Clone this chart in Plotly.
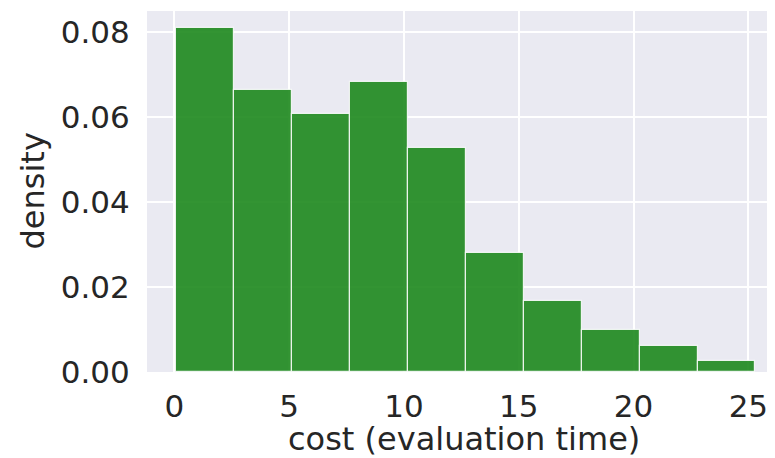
import plotly.graph_objects as go

# Histogram data (density per bin)
bin_edges = [0.07, 2.60, 5.12, 7.65, 10.18, 12.70, 15.23, 17.76, 20.28, 22.81, 25.30]
density = [0.0809, 0.0663, 0.0606, 0.0682, 0.0526, 0.0281, 0.0166, 0.0099, 0.0062, 0.0027]
x_ticks = [0, 5, 10, 15, 20, 25]
y_ticks = [0.00, 0.02, 0.04, 0.06, 0.08]
y_tick_labels = ["0.00", "0.02", "0.04", "0.06", "0.08"]
x_title = "cost (evaluation time)"
y_title = "density"

centers = [(bin_edges[i] + bin_edges[i + 1]) / 2 for i in range(len(density))]
widths = [bin_edges[i + 1] - bin_edges[i] for i in range(len(density))]

fig = go.Figure(
    go.Bar(
        x=centers,
        y=density,
        width=widths,
        marker=dict(color="#228B22", opacity=0.92, line=dict(color="rgba(255,255,255,0.85)", width=1.2)),
        hoverinfo="x+y",
    )
)

text_color = "#262626"

# The page body adds an 8px offset, so the figure is 8px smaller on each axis
fig.update_layout(
    width=767,
    height=450,
    margin=dict(l=139, r=0, t=3, b=86),
    paper_bgcolor="white",
    plot_bgcolor="#EAEAF2",
    font=dict(family="DejaVu Sans", size=31, color=text_color),
    showlegend=False,
    bargap=0,
    annotations=[
        dict(text=x_title, xref="paper", yref="paper", x=0.5, y=0, xshift=3, yshift=-67,
             xanchor="center", yanchor="middle", showarrow=False, borderpad=0,
             font=dict(family="DejaVu Sans", size=32, color=text_color)),
        dict(text=y_title, xref="paper", yref="paper", x=0, y=0.5, xshift=-115,
             xanchor="center", yanchor="middle", textangle=-90, showarrow=False,
             font=dict(family="DejaVu Sans", size=32, color=text_color)),
    ],
)

fig.update_xaxes(
    range=[-1.19, 26.16],
    tickvals=x_ticks,
    ticktext=[str(v) for v in x_ticks],
    showgrid=True,
    gridcolor="white",
    gridwidth=1.5,
    zeroline=False,
    showline=False,
    ticks="outside",
    ticklen=7,
    tickcolor="rgba(0,0,0,0)",
    tickfont=dict(family="DejaVu Sans", size=31, color=text_color),
    automargin=False,
)

fig.update_yaxes(
    range=[0, 0.0849],
    tickvals=y_ticks,
    ticktext=y_tick_labels,
    showgrid=True,
    gridcolor="white",
    gridwidth=1.5,
    zeroline=False,
    showline=False,
    ticks="outside",
    ticklen=10,
    tickcolor="rgba(0,0,0,0)",
    tickfont=dict(family="DejaVu Sans", size=31, color=text_color),
    automargin=False,
)

fig.write_html("out.html")
